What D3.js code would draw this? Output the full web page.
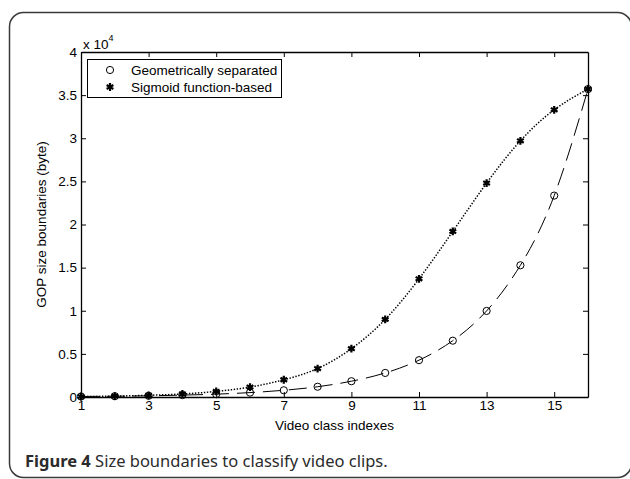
<!DOCTYPE html>
<html>
<head>
<meta charset="utf-8">
<script src="https://cdn.jsdelivr.net/npm/d3@7"></script>
<style>
  html, body { margin: 0; padding: 0; background: #fff; }
  svg { display: block; }
</style>
</head>
<body>
<svg id="chart" width="630" height="479"></svg>
<script>
// ---- data (bytes) ----
const classIndexes = [1, 2, 3, 4, 5, 6, 7, 8, 9, 10, 11, 12, 13, 14, 15, 16];
const geometricValues = [60, 90, 140, 220, 330, 510, 780, 1190, 1830, 2790, 4270, 6530, 9980, 15270, 23350, 35700];
const sigmoidValues = [50, 100, 200, 350, 650, 1150, 2000, 3300, 5600, 9000, 13700, 19200, 24800, 29700, 33300, 35700];
const xTickValues = [1, 3, 5, 7, 9, 11, 13, 15];
const yTickValues = [0, 5000, 10000, 15000, 20000, 25000, 30000, 35000, 40000];
const seriesNames = ["Geometrically separated", "Sigmoid function-based"];
const xTitle = "Video class indexes";
const yTitle = "GOP size boundaries (byte)";
const captionBold = "Figure 4";
const captionText = " Size boundaries to classify video clips.";

const svg = d3.select("#chart");
const font = "'Liberation Sans', Arial, Helvetica, sans-serif";

// outer rounded frame
svg.append("rect")
  .attr("x", 9.5).attr("y", 12.5)
  .attr("width", 622).attr("height", 465)
  .attr("rx", 14).attr("ry", 14)
  .attr("fill", "none").attr("stroke", "#3a3a3a").attr("stroke-width", 1.5);

const L = 81, R = 588, T = 52, B = 397;
const x = d3.scaleLinear().domain([1, 16]).range([L, R]);
const y = d3.scaleLinear().domain([0, 40000]).range([B, T]);

const g = svg.append("g");

// axes with inward ticks (MATLAB box style)
const fmt = d => String(d / 10000);
const axB = g.append("g").attr("transform", `translate(0,${B})`)
  .call(d3.axisBottom(x).tickValues(xTickValues).tickSizeInner(-5).tickSizeOuter(0).tickPadding(6).tickFormat(d3.format("d")));
const axT = g.append("g").attr("transform", `translate(0,${T})`)
  .call(d3.axisTop(x).tickValues(xTickValues).tickSizeInner(-5).tickSizeOuter(0).tickFormat(""));
const axLf = g.append("g").attr("transform", `translate(${L},0)`)
  .call(d3.axisLeft(y).tickValues(yTickValues).tickSizeInner(-5).tickSizeOuter(0).tickPadding(4).tickFormat(fmt));
const axRt = g.append("g").attr("transform", `translate(${R},0)`)
  .call(d3.axisRight(y).tickValues(yTickValues).tickSizeInner(-5).tickSizeOuter(0).tickFormat(""));
[axB, axT, axLf, axRt].forEach(a => {
  a.select(".domain").attr("stroke", "#000").attr("stroke-width", 1.3);
  a.selectAll(".tick line").attr("stroke", "#000").attr("stroke-width", 1);
  a.selectAll("text").attr("font-family", font).attr("font-size", 13.5).attr("fill", "#000");
});
axB.selectAll("text").attr("dy", "0.5em");

// exponent label
const expo = svg.append("text").attr("x", 83).attr("y", 49)
  .attr("font-family", font).attr("font-size", 13.5).attr("fill", "#000");
expo.append("tspan").text("x 10");
expo.append("tspan").attr("dy", -8).attr("font-size", 9).text("4");

// axis titles
svg.append("text").attr("x", (L + R) / 2).attr("y", 430)
  .attr("text-anchor", "middle").attr("font-family", font).attr("font-size", 13.5).text(xTitle);
svg.append("text").attr("transform", `translate(46,${(T + B) / 2}) rotate(-90)`)
  .attr("text-anchor", "middle").attr("font-family", font).attr("font-size", 13.5).text(yTitle);

// lines
const line = vals => d3.line()
  .x((d, i) => x(classIndexes[i]))
  .y(d => y(d))
  .curve(d3.curveNatural)(vals);

g.append("path").attr("d", line(geometricValues))
  .attr("fill", "none").attr("stroke", "#000").attr("stroke-width", 1)
  .attr("stroke-dasharray", "18,8");
g.append("path").attr("d", line(sigmoidValues))
  .attr("fill", "none").attr("stroke", "#000").attr("stroke-width", 1.5)
  .attr("stroke-dasharray", "1.4,1.6");

// markers
const star = d3.symbol().type(d3.symbolAsterisk).size(42);
g.selectAll(".circ").data(geometricValues).join("circle")
  .attr("cx", (d, i) => x(classIndexes[i])).attr("cy", d => y(d)).attr("r", 3.6)
  .attr("fill", "none").attr("stroke", "#000").attr("stroke-width", 1);
g.selectAll(".star").data(sigmoidValues).join("path")
  .attr("d", star)
  .attr("transform", (d, i) => `translate(${x(classIndexes[i])},${y(d)})`)
  .attr("fill", "none").attr("stroke", "#000").attr("stroke-width", 2.2);

// legend
const lg = svg.append("g");
lg.append("rect").attr("x", 87.5).attr("y", 59.5).attr("width", 194).attr("height", 38)
  .attr("fill", "#fff").attr("stroke", "#000").attr("stroke-width", 1);
lg.append("circle").attr("cx", 110).attr("cy", 70).attr("r", 3.6)
  .attr("fill", "none").attr("stroke", "#000");
lg.append("path").attr("d", star).attr("transform", "translate(110,87)")
  .attr("fill", "none").attr("stroke", "#000").attr("stroke-width", 2.2);
seriesNames.forEach((n, i) => {
  lg.append("text").attr("x", 131).attr("y", 70 + i * 17).attr("dy", "0.35em")
    .attr("font-family", font).attr("font-size", 13.5).attr("fill", "#000").text(n);
});

// caption
const cap = svg.append("text").attr("x", 25).attr("y", 467)
  .attr("font-family", "'Noto Sans', 'Open Sans', sans-serif").attr("font-size", 16.5).attr("fill", "#2b2b2b");
cap.append("tspan").attr("font-weight", "bold").text(captionBold);
cap.append("tspan").text(captionText);
</script>
</body>
</html>
